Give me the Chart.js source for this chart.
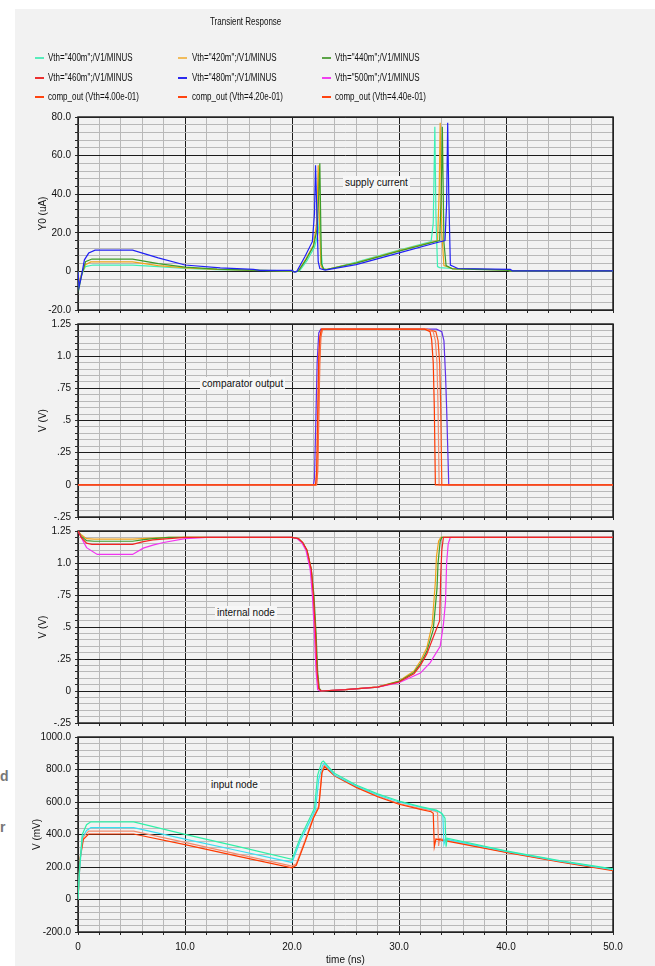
<!DOCTYPE html>
<html><head><meta charset="utf-8">
<script src="https://cdn.jsdelivr.net/npm/chart.js@4"></script>
<style>
html,body{margin:0;padding:0;background:#fff;}
#page{position:relative;width:655px;height:966px;overflow:hidden;font-family:"Liberation Sans",Arial,sans-serif;}
#panel{position:absolute;left:15px;top:9px;right:0;bottom:0;background:#f2f2f2;}
canvas{position:absolute;left:0;top:0;}
.t{position:absolute;font-size:10px;color:#111;white-space:nowrap;line-height:12px;transform:scaleX(0.8);transform-origin:0 50%;}
.sw{position:absolute;width:9px;height:0;border-top:2px solid;}
.lab{position:absolute;font-size:10px;line-height:13px;background:#f6f6f6;padding:0 2px;color:#111;white-space:nowrap;}
.frag{position:absolute;font-size:14px;font-weight:bold;color:#777;}
</style></head>
<body><div id="page">
<div id="panel"></div>
<div class="frag" style="left:0px;top:768px;">d</div>
<div class="frag" style="left:0px;top:819px;">r</div>
<canvas id="c1" width="655" height="966"></canvas>
<canvas id="c2" width="655" height="966"></canvas>
<canvas id="c3" width="655" height="966"></canvas>
<canvas id="c4" width="655" height="966"></canvas>
<div id="overlay"></div>
</div>
<script>
// ---------- legend ----------
const legendNames = [
  'Vth="400m";/V1/MINUS','Vth="420m";/V1/MINUS','Vth="440m";/V1/MINUS',
  'Vth="460m";/V1/MINUS','Vth="480m";/V1/MINUS','Vth="500m";/V1/MINUS',
  'comp_out (Vth=4.00e-01)','comp_out (Vth=4.20e-01)','comp_out (Vth=4.40e-01)'
];
const legendColors = ['#58ecbc','#f0bc5c','#5ca448','#ec3030','#2a2aee','#f040f0','#ff4410','#ff4410','#ff4410'];

// ---------- axis ticks ----------
const timeTickLabels = ['0','10.0','20.0','30.0','40.0','50.0'];
const currentTickLabels = ['-20.0','0','20.0','40.0','60.0','80.0'];
const voltTickLabels = ['-.25','0','.25','.5','.75','1.0','1.25'];
const mvTickLabels = ['-200.0','0','200.0','400.0','600.0','800.0','1000.0'];

// ---------- panel 1: supply current (uA) ----------
const scBlueT = [0,0.1,0.3,0.6,1.0,1.6,5.1,7.5,10,13.3,16.4,17,20,20.2,20.45,21.2,21.9,22.1,22.2,22.3,22.45,22.6,23.1,26,30.1,33.4,34.3,34.45,34.55,34.65,34.8,35.5,40.4,40.6,50];
const scBlueV = [0,-8,-3,6,9.5,11,11,7,3.3,1.8,1.0,0.5,0.5,-0.4,0,7.6,15.4,30,55,35,5,1.5,0.7,3.5,9.7,14.7,16,35,77,40,3.3,1.5,1.0,0.3,0.3];
const scGreenT = [0,0.1,0.3,0.7,1.3,5.1,7.5,10,13,16,20,20.3,20.6,21.3,22.0,22.35,22.5,22.6,22.75,22.95,23.2,26,30,33.4,33.8,33.95,34.05,34.2,34.4,35,40,40.4,50];
const scGreenV = [0,-8.6,-3,5,6.4,6.4,4,2.2,1.2,0.7,0.3,-0.3,0.2,6,13,22,40,56,4,1.2,1.0,4.3,10.5,15.4,16,40,75,15,3.0,1.3,0.7,0.3,0.3];
const scOrangeT = [0,0.1,0.3,0.7,1.2,5.1,7.5,10,13,16,20,20.3,20.6,21.3,22.0,22.3,22.45,22.55,22.7,22.9,23.2,26,30,33.3,33.6,33.75,33.85,34.0,34.2,35,40,40.4,50];
const scOrangeV = [0,-6,-2,3.5,4.9,4.9,3,1.8,1.0,0.6,0.3,-0.3,0.3,6.5,13.5,25,55,30,3,1.2,1.0,4.5,10.8,15.5,16,40,77,20,3.0,1.4,0.8,0.3,0.3];
const scAquaT = [0,0.1,0.3,0.7,1.4,5.1,7.5,10,13,16,20,20.3,20.7,21.4,22.1,22.45,22.6,22.7,22.85,23.0,23.3,26,30,33.0,33.2,33.35,33.45,33.6,33.8,35,40,40.4,50];
const scAquaV = [0,-7,-2,2.5,3.3,3.3,2.5,1.5,0.9,0.5,0.3,-0.3,0.2,5.5,12.5,20,31,12,2.5,1.2,1.0,4.8,11,15.5,25,75,30,2.5,2.0,1.5,0.8,0.3,0.3];

// ---------- panel 2: comparator output (V) ----------
const coRed1T = [0,22.2,22.3,22.4,22.5,22.6,22.75,32.4,32.9,33.05,33.2,33.3,33.4,50];
const coRed1V = [0,0,0.1,0.55,1.0,1.15,1.21,1.21,1.19,1.13,0.95,0.6,0,0];
const coRed2T = [0,22.25,22.35,22.45,22.55,22.65,22.8,32.5,33.2,33.4,33.55,33.65,33.75,50];
const coRed2V = [0,0,0.1,0.5,0.95,1.15,1.21,1.21,1.19,1.12,0.95,0.6,0,0];
const coRed3T = [0,22.3,22.4,22.5,22.6,22.7,22.85,32.6,33.45,33.65,33.8,33.9,34.0,50];
const coRed3V = [0,0,0.1,0.5,0.95,1.15,1.21,1.21,1.19,1.12,0.95,0.6,0,0];
const coBlueT = [0,22.0,22.1,22.2,22.35,22.5,22.7,32.6,33.5,34.0,34.2,34.35,34.45,34.55,34.65,50];
const coBlueV = [0,0,0.05,0.4,0.95,1.18,1.21,1.21,1.21,1.19,1.12,0.85,0.6,0.3,0,0];

// ---------- panel 3: internal node (V) ----------
const inRedT = [0,0.3,0.8,1.3,5.1,6,7,8.5,10,20,20.6,21.0,21.4,21.8,22.0,22.2,22.35,22.5,22.7,25,28,30,31.4,32,32.6,33.2,33.8,33.9,34.0,34.15,50];
const inRedV = [1.25,1.2,1.155,1.145,1.145,1.165,1.18,1.19,1.2,1.2,1.19,1.16,1.1,0.95,0.75,0.45,0.15,0.02,0.0,0.01,0.03,0.07,0.135,0.2,0.29,0.42,0.55,0.9,1.1,1.2,1.2];
const inMagT = [0,0.3,0.8,1.8,5.1,6.1,7,8,10,12,20,20.5,20.9,21.3,21.7,21.9,22.1,22.25,22.4,22.6,25,28,30,32,32.9,33.85,34.15,34.35,34.45,34.6,34.8,50];
const inMagV = [1.25,1.2,1.12,1.067,1.067,1.116,1.14,1.16,1.19,1.2,1.2,1.19,1.16,1.1,0.95,0.75,0.45,0.15,0.01,0.0,0.01,0.03,0.065,0.14,0.22,0.35,0.52,0.7,1.0,1.15,1.2,1.2];
const inGreenT = [0,0.3,0.8,1.5,5.1,6,7,8.5,20,20.6,21.0,21.4,21.8,22.05,22.25,22.4,22.55,22.75,25,28,30,31.4,32,32.6,33.2,33.55,33.65,33.85,34.0,50];
const inGreenV = [1.25,1.21,1.175,1.17,1.17,1.18,1.19,1.2,1.2,1.19,1.16,1.1,0.95,0.75,0.45,0.15,0.02,0.0,0.01,0.03,0.075,0.145,0.215,0.31,0.48,0.8,1.0,1.17,1.2,1.2];
const inOrangeT = [0,0.3,0.8,1.5,5.1,6,7,8.5,20,20.6,21.0,21.4,21.8,22.0,22.2,22.35,22.5,22.7,25,28,30,31.4,32,32.6,33.1,33.4,33.5,33.7,33.9,50];
const inOrangeV = [1.25,1.22,1.19,1.186,1.186,1.19,1.195,1.2,1.2,1.19,1.16,1.1,0.95,0.75,0.45,0.15,0.02,0.0,0.01,0.032,0.078,0.156,0.234,0.337,0.52,0.855,1.05,1.17,1.2,1.2];

// ---------- panel 4: input node (mV) ----------
const ipMintT = [0,0.15,0.4,0.8,1.2,5.2,10,15,20,20.75,21.5,22.1,22.4,22.77,22.93,24,26,28,30,32,33.5,34.0,34.3,34.4,34.5,40,45,50];
const ipMintV = [0,200,400,460,478,478,401,325,247,377,479,561,766,844,852,775,705,650,606,572,550,530,500,325,377,299,240,188];
const ipCyanT = [0,0.15,0.4,0.8,1.2,5.2,10,15,20,20.8,21.6,22.2,22.5,22.85,23.0,24,26,28,30,32,33.5,33.9,34.1,34.2,34.35,40,45,50];
const ipCyanV = [0,180,380,425,442,442,372,300,228,365,470,555,740,825,838,765,698,643,600,568,545,535,520,340,372,296,236,184];
const ipRedT = [0,0.2,0.5,1.0,5.2,10,15,20,20.4,21.2,22.0,22.5,22.8,23.05,24,26,28,30,32,33.0,33.2,33.3,33.45,34.0,40,45,50];
const ipRedV = [0,250,370,403,403,338,265,195,210,350,500,565,780,817,760,690,632,586,555,540,530,325,372,365,290,232,178];
const ipSalmonT = [0,0.2,0.5,1.0,5.2,10,15,20,20.4,21.2,22.0,22.5,22.8,23.0,24,26,28,30,32,33.4,33.6,33.7,33.8,34.2,40,45,50];
const ipSalmonV = [0,260,385,421,421,352,278,206,220,360,510,575,790,825,765,695,637,590,560,543,535,330,375,368,292,234,180];

// ---------- drawing ----------
const FONT = {family:'"Liberation Sans", Arial, sans-serif', size:10};
const MAJOR = '#1c1c1c', MINOR = '#b9b9b9';

function ticksFor(min,max,step){const a=[];const n=Math.round((max-min)/step);for(let i=0;i<=n;i++)a.push({value:+(min+i*step).toFixed(6)});return a;}
function near(v,m){const r=v/m;return Math.abs(r-Math.round(r))<1e-6;}
function labelFrom(list,min,step){return v=>{if(!near(v-min,step))return '';const i=Math.round((v-min)/step);return list[i]!==undefined?list[i]:'';};}

const framePlugin = {id:'frame', beforeDatasetsDraw(chart){const {ctx,chartArea:a}=chart;ctx.save();ctx.strokeStyle='#262626';ctx.lineWidth=1.5;ctx.strokeRect(a.left,a.top,a.right-a.left,a.bottom-a.top);ctx.restore();}};

function makePanel(id,cfg){
  const datasets = cfg.series.map(s=>({
    label:s.name, data:s.t.map((t,i)=>({x:t,y:s.v[i]})), borderColor:s.color,
    borderWidth:1.2, pointRadius:0, tension:0, fill:false
  }));
  const padL = cfg.padLeft;
  return new Chart(document.getElementById(id),{
    type:'line',
    data:{datasets},
    options:{
      responsive:false, animation:false, devicePixelRatio:1, parsing:false,
      layout:{padding:{left:padL,right:42,top:cfg.top,bottom:cfg.padBottom}},
      plugins:{legend:{display:false},tooltip:{enabled:false}},
      scales:{
        x:{type:'linear',min:0,max:50,
          afterBuildTicks:s=>{s.ticks=ticksFor(0,50,2);},
          afterFit:s=>{s.height=cfg.xh;},
          border:{display:false},
          grid:{color:c=>(c.tick&&near(c.tick.value,10))?MAJOR:MINOR, tickColor:'#2a2a2a', tickLength:3, lineWidth:1},
          ticks:{display:cfg.bottom, autoSkip:false, maxRotation:0, minRotation:0, padding:6, font:FONT, color:'#111',
            callback:labelFrom(timeTickLabels,0,10)},
          title:{display:cfg.bottom, text:'time (ns)', padding:0, font:FONT, color:'#111'}
        },
        y:{type:'linear',min:cfg.min,max:cfg.max,
          afterBuildTicks:s=>{s.ticks=ticksFor(cfg.min,cfg.max,cfg.step);},
          afterFit:s=>{s.width=78-padL;},
          border:{display:false},
          grid:{color:c=>(c.tick&&near(c.tick.value-cfg.min,cfg.major))?MAJOR:MINOR, tickColor:'#2a2a2a', tickLength:3, lineWidth:1},
          ticks:{autoSkip:false, padding:4, font:FONT, color:'#111', callback:labelFrom(cfg.labels,cfg.min,cfg.major)},
          title:{display:true, text:cfg.ytitle, padding:0, font:FONT, color:'#111'}
        }
      }
    },
    plugins:[framePlugin]
  });
}

makePanel('c1',{top:117,padBottom:652,xh:4,bottom:false,padLeft:37,min:-20,max:80,step:4,major:20,labels:currentTickLabels,ytitle:'Y0 (uA)',
  series:[
    {name:legendNames[4],t:scBlueT,v:scBlueV,color:'#2020f4'},
    {name:legendNames[2],t:scGreenT,v:scGreenV,color:'#3c9c28'},
    {name:legendNames[1],t:scOrangeT,v:scOrangeV,color:'#f0a41c'},
    {name:legendNames[0],t:scAquaT,v:scAquaV,color:'#3cf0b4'}
  ]});
makePanel('c2',{top:324,padBottom:445,xh:4,bottom:false,padLeft:37,min:-0.25,max:1.25,step:0.05,major:0.25,labels:voltTickLabels,ytitle:'V (V)',
  series:[
    {name:legendNames[6],t:coRed1T,v:coRed1V,color:'#ff3a00'},
    {name:legendNames[7],t:coRed2T,v:coRed2V,color:'#f48a6c'},
    {name:legendNames[8],t:coRed3T,v:coRed3V,color:'#ff5014'},
    {name:legendNames[4],t:coBlueT,v:coBlueV,color:'#6030e8'}
  ]});
makePanel('c3',{top:531,padBottom:239,xh:4,bottom:false,padLeft:37,min:-0.25,max:1.25,step:0.05,major:0.25,labels:voltTickLabels,ytitle:'V (V)',
  series:[
    {name:legendNames[3],t:inRedT,v:inRedV,color:'#f42424'},
    {name:legendNames[5],t:inMagT,v:inMagV,color:'#f034f0'},
    {name:legendNames[2],t:inGreenT,v:inGreenV,color:'#3c9c28'},
    {name:legendNames[1],t:inOrangeT,v:inOrangeV,color:'#f0a41c'}
  ]});
makePanel('c4',{top:737,padBottom:0,xh:34,bottom:true,padLeft:31,min:-200,max:1000,step:40,major:200,labels:mvTickLabels,ytitle:'V (mV)',
  series:[
    {name:legendNames[0],t:ipMintT,v:ipMintV,color:'#30f0a8'},
    {name:legendNames[0],t:ipCyanT,v:ipCyanV,color:'#3ce0f0'},
    {name:legendNames[6],t:ipRedT,v:ipRedV,color:'#ff3a00'},
    {name:legendNames[7],t:ipSalmonT,v:ipSalmonV,color:'#f48a6c'}
  ]});

// ---------- title, legend, annotations (HTML text) ----------
const ov = document.getElementById('overlay');
function add(html){ov.insertAdjacentHTML('beforeend',html);}
add('<div class="t" style="left:210px;top:16px;">Transient Response</div>');
const colX = [[35,48],[178,192],[322,335]];
const rowY = [58,78,97];
legendNames.forEach((n,i)=>{
  const c = colX[i%3], y = rowY[Math.floor(i/3)];
  add(`<div class="sw" style="left:${c[0]}px;top:${y-1}px;border-color:${legendColors[i]}"></div>`);
  const safe = n.replace(/"/g,'&quot;');
  add(`<div class="t" style="left:${c[1]}px;top:${y-6}px;">${safe}</div>`);
});
add('<div class="lab" style="left:343px;top:176px;">supply current</div>');
add('<div class="lab" style="left:200px;top:377px;">comparator output</div>');
add('<div class="lab" style="left:215px;top:606px;">internal node</div>');
add('<div class="lab" style="left:209px;top:778px;">input node</div>');
</script>
</body></html>
